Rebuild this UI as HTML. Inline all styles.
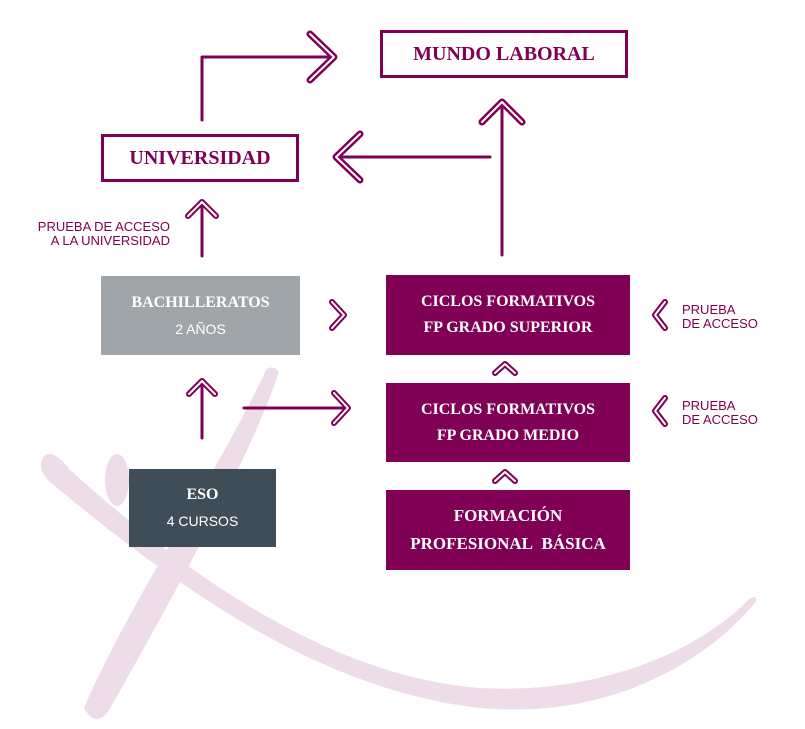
<!DOCTYPE html>
<html><head><meta charset="utf-8"><style>
body{margin:0;background:#fff;width:805px;height:729px;overflow:hidden;position:relative;font-family:"Liberation Serif",serif}
.b{position:absolute;box-sizing:border-box;display:flex;flex-direction:column;align-items:center;justify-content:center;text-align:center;color:#fff}
.o{border:3px solid #800055;color:#800055;font-weight:bold;font-size:20px}
.f{background:#800055;font-weight:bold;font-size:16px;line-height:26px}
.s{font-family:"Liberation Sans",sans-serif;font-weight:normal;font-size:14px}
.l{position:absolute;font-family:"Liberation Sans",sans-serif;color:#800055;font-size:13px;line-height:14px}
</style></head><body>
<svg width="805" height="729" style="position:absolute;left:0;top:0">
<g fill="#eedce8" stroke="none">
<path d="M266 370 Q273 364 279 372 C250 460 160 620 108 712 Q95 728 84 708 C130 600 220 470 266 370 Z"/>
<path d="M45 455 Q35 468 50 482 C180 590 320 690 480 708 C610 720 710 660 757 600 Q755 594 748 600 C700 650 600 695 480 688 C320 676 170 560 70 470 Q55 450 45 455 Z"/>
<ellipse cx="117" cy="480" rx="12" ry="26"/>
</g>
<g fill="none" stroke="#800055" stroke-width="3" stroke-linejoin="round" stroke-linecap="round">
<path d="M202 120 V57 H330"/><path d="M310 34 L334 57 L310 80" stroke-width="7"/><path d="M310 34 L334 57 L310 80" stroke="#fff" stroke-width="2"/>
<path d="M490 157 H340"/><path d="M360 134 L336 157 L360 180" stroke-width="7"/><path d="M360 134 L336 157 L360 180" stroke="#fff" stroke-width="2"/>
<path d="M502 255 V106"/><path d="M482 122 L502 102 L522 122" stroke-width="7"/><path d="M482 122 L502 102 L522 122" stroke="#fff" stroke-width="2"/>
<path d="M202 256 V206"/><path d="M188 216 L202 202 L216 216" stroke-width="6"/><path d="M188 216 L202 202 L216 216" stroke="#fff" stroke-width="2"/>
<path d="M202 438 V384"/><path d="M189 394 L202 381 L215 394" stroke-width="6"/><path d="M189 394 L202 381 L215 394" stroke="#fff" stroke-width="2"/>
<path d="M244 408 H344"/><path d="M334 393 L348 408 L334 423" stroke-width="6"/><path d="M334 393 L348 408 L334 423" stroke="#fff" stroke-width="2"/>
<path d="M332 302 L344 315 L332 328" stroke-width="6"/><path d="M332 302 L344 315 L332 328" stroke="#fff" stroke-width="2"/>
<path d="M495 373 L505 364 L515 373" stroke-width="6"/><path d="M495 373 L505 364 L515 373" stroke="#fff" stroke-width="2"/>
<path d="M495 481 L505 472 L515 481" stroke-width="6"/><path d="M495 481 L505 472 L515 481" stroke="#fff" stroke-width="2"/>
<path d="M665 302 L655 315 L665 328" stroke-width="6"/><path d="M665 302 L655 315 L665 328" stroke="#fff" stroke-width="2"/>
<path d="M665 398 L655 411 L665 424" stroke-width="6"/><path d="M665 398 L655 411 L665 424" stroke="#fff" stroke-width="2"/>
</g></svg>
<div class="b o" style="left:380px;top:30px;width:248px;height:48px">MUNDO LABORAL</div>
<div class="b o" style="left:101px;top:134px;width:198px;height:48px">UNIVERSIDAD</div>
<div class="l" style="left:20px;top:220px;width:150px;text-align:right">PRUEBA DE ACCESO<br>A LA UNIVERSIDAD</div>
<div class="b f" style="left:101px;top:276px;width:199px;height:79px;background:#a0a5aa">BACHILLERATOS<span class="s">2 AÑOS</span></div>
<div class="b f" style="left:129px;top:469px;width:147px;height:78px;background:#3f4d58">ESO<span class="s">4 CURSOS</span></div>
<div class="b f" style="left:386px;top:275px;width:244px;height:80px">CICLOS FORMATIVOS<br>FP GRADO SUPERIOR</div>
<div class="b f" style="left:386px;top:383px;width:244px;height:79px">CICLOS FORMATIVOS<br>FP GRADO MEDIO</div>
<div class="b f" style="left:386px;top:490px;width:244px;height:80px;font-size:17px;line-height:28px">FORMACIÓN<br>PROFESIONAL&nbsp; BÁSICA</div>
<div class="l" style="left:682px;top:303px">PRUEBA<br>DE ACCESO</div>
<div class="l" style="left:682px;top:399px">PRUEBA<br>DE ACCESO</div>
</body></html>
